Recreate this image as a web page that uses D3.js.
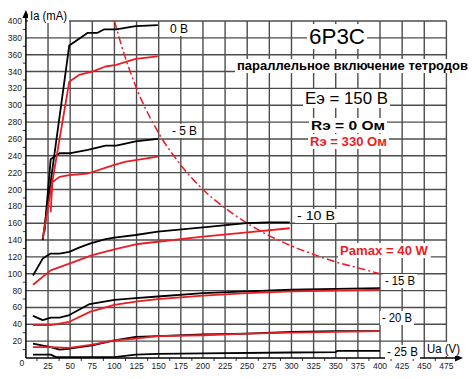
<!doctype html>
<html>

<head>
  <meta charset="utf-8">
  <title>6P3C</title>
  <script src="https://d3js.org/d3.v7.min.js"></script>
  <style>
    body { margin: 0; background: #fff; }
    text { font-family: "Liberation Sans", Arial, sans-serif; }
  </style>
</head>

<body>
  <div id="my_dataviz"></div>

  <script>

    // tick labels
    var xTicks = [25, 50, 75, 100, 125, 150, 175, 200, 225, 250, 275, 300, 325, 350, 375, 400, 425, 450, 475];
    var yTicks = [20, 40, 60, 80, 100, 120, 140, 160, 180, 200, 220, 240, 260, 280, 300, 320, 340, 360, 380, 400];

    // curves, [Ua (V), Ia (mA)], black: Rэ = 0, red: Rэ = 330
    var g0Black = [[19, 140], [49, 371], [70, 386], [81, 386], [88, 390], [102, 390], [124, 394], [149, 395]];
    var g0Red = [[19, 142], [49, 328], [60, 336], [75, 340], [90, 346], [102, 348], [124, 355], [149, 358]];
    var g5Black = [[21, 150], [28, 236], [38, 243], [49, 243], [70, 247], [90, 252], [102, 252], [124, 257], [149, 260]];
    var g5Red = [[28, 173], [30, 209], [38, 215], [49, 217], [70, 219], [99, 229], [113, 233], [149, 239]];
    var g10Black = [[8, 98], [19, 118], [28, 124], [38, 124], [49, 126], [60, 131], [73, 136], [90, 141], [100, 143], [124, 146], [149, 150], [200, 155], [249, 160], [274, 161], [298, 161]];
    var g10Red = [[8, 87], [28, 104], [49, 112], [75, 122], [100, 129], [124, 135], [149, 138], [200, 144], [250, 149], [298, 154]];
    var g15Black = [[8, 50], [19, 45], [28, 48], [38, 48], [49, 51], [72, 64], [100, 69], [124, 71], [149, 73], [200, 77], [250, 79], [300, 81], [350, 82], [400, 83]];
    var g15Red = [[8, 39], [28, 39], [49, 43], [73, 55], [100, 63], [124, 67], [149, 70], [200, 74], [250, 77], [300, 79], [350, 80], [400, 81]];
    var g20Black = [[8, 17], [28, 13], [38, 10], [49, 11], [75, 15], [100, 21], [124, 25], [149, 26], [200, 28], [250, 29], [300, 31], [350, 32], [400, 32]];
    var g20Red = [[8, 13], [28, 13], [49, 12], [75, 16], [100, 21], [124, 23], [149, 26], [200, 27], [250, 29], [300, 30], [350, 31], [400, 32]];
    var g25Black = [[8, 4], [28, 4], [34, 1], [100, 1], [124, 4], [149, 5], [200, 5.5], [300, 6.5], [350, 7], [352, 8.5], [400, 8.5]];

    // max anode dissipation 40 W
    var paMax = [[100, 400], [110, 364], [125, 320], [150, 267], [175, 229], [200, 200], [225, 178], [250, 160], [275, 145], [300, 133], [325, 123], [350, 114], [375, 107], [400, 100]];

    var black = "#000000", red = "#ec1c24";
    var curves = [
      { data: g25Black, color: black },
      { data: g20Black, color: black },
      { data: g20Red, color: red },
      { data: g15Black, color: black },
      { data: g15Red, color: red },
      { data: g10Black, color: black },
      { data: g10Red, color: red },
      { data: g5Black, color: black },
      { data: g5Red, color: red },
      { data: g0Black, color: black },
      { data: g0Red, color: red }
    ];

    var W = 474, H = 379;

    var svg = d3.select("#my_dataviz")
      .append("svg")
      .attr("width", W)
      .attr("height", H);

    var x = d3.scaleLinear().domain([0, 475]).range([25.9, 446.4]);
    var y = d3.scaleLinear().domain([0, 400]).range([358, 21]);

    // grid
    svg.append("g").selectAll("line")
      .data(xTicks).join("line")
      .attr("x1", d => x(d)).attr("x2", d => x(d))
      .attr("y1", y(0)).attr("y2", y(400))
      .attr("stroke", "#4d4d4d").attr("stroke-width", 1.4);
    svg.append("g").selectAll("line")
      .data(yTicks).join("line")
      .attr("x1", x(0)).attr("x2", x(475))
      .attr("y1", d => y(d)).attr("y2", d => y(d))
      .attr("stroke", "#4d4d4d").attr("stroke-width", 1.4);

    // minor ticks
    svg.append("g").selectAll("line")
      .data(yTicks).join("line")
      .attr("x1", x(0) - 3).attr("x2", x(0))
      .attr("y1", d => y(d - 10)).attr("y2", d => y(d - 10))
      .attr("stroke", "#333").attr("stroke-width", 1);
    svg.append("g").selectAll("line")
      .data(xTicks).join("line")
      .attr("x1", d => x(d - 12.5)).attr("x2", d => x(d - 12.5))
      .attr("y1", y(0)).attr("y2", y(0) + 3)
      .attr("stroke", "#333").attr("stroke-width", 1);

    // tick labels
    svg.append("g").selectAll("text")
      .data(yTicks).join("text")
      .attr("x", x(0) - 4)
      .attr("y", d => y(d) + 3)
      .attr("text-anchor", "end")
      .style("font-size", "8.5px")
      .attr("fill", "#222")
      .text(d => d);
    svg.append("g").selectAll("text")
      .data([0].concat(xTicks)).join("text")
      .attr("x", d => d === 0 ? x(0) - 4 : x(d))
      .attr("y", d => d === 0 ? y(0) + 8 : y(0) + 11)
      .attr("text-anchor", "middle")
      .style("font-size", "8.5px")
      .attr("fill", "#222")
      .text(d => d);

    // axes with arrows
    svg.append("line")
      .attr("x1", x(0)).attr("x2", x(0))
      .attr("y1", y(0)).attr("y2", 14)
      .attr("stroke", "#000").attr("stroke-width", 1.5);
    svg.append("line")
      .attr("x1", x(0)).attr("x2", 458)
      .attr("y1", y(0)).attr("y2", y(0))
      .attr("stroke", "#000").attr("stroke-width", 1.5);
    svg.append("path")
      .attr("d", "M" + x(0) + ",10 l-3.5,8 l7,0 z")
      .attr("fill", "#000");
    svg.append("path")
      .attr("d", "M463," + y(0) + " l-8,-3.5 l0,7 z")
      .attr("fill", "#000");

    var line = d3.line()
      .x(d => x(d[0]))
      .y(d => y(d[1]));

    // Pa max hyperbola
    svg.append("path")
      .datum(paMax)
      .attr("fill", "none")
      .attr("stroke", red)
      .attr("stroke-width", 1.5)
      .attr("stroke-dasharray", "8,3,2,3")
      .attr("d", d3.line().x(d => x(d[0])).y(d => y(d[1])).curve(d3.curveMonotoneX));

    // characteristic curves
    svg.append("g").selectAll("path")
      .data(curves).join("path")
      .attr("fill", "none")
      .attr("stroke", d => d.color)
      .attr("stroke-width", 1.8)
      .attr("stroke-linejoin", "round")
      .attr("d", d => line(d.data));

    // text with white background
    function label(tx, ty, str, size, weight, color, len) {
      var g = svg.append("g");
      var t = g.append("text")
        .attr("x", tx).attr("y", ty)
        .style("font-size", size + "px")
        .style("font-weight", weight)
        .attr("fill", color)
        .text(str);
      if (len) t.attr("textLength", len).attr("lengthAdjust", "spacingAndGlyphs");
      var b = t.node().getBBox();
      g.insert("rect", "text")
        .attr("x", b.x - 2).attr("y", b.y)
        .attr("width", b.width + 4).attr("height", b.height)
        .attr("fill", "#fff");
    }

    label(30, 20, "Ia (mA)", 12.5, "normal", "#000", 37);
    label(427, 353, "Ua (V)", 12, "normal", "#000", 33);

    label(170, 33, "0 В", 12, "normal", "#000", 18);
    label(172, 135, "- 5 В", 12, "normal", "#000", 25);
    label(297, 220, "- 10 В", 12, "normal", "#000", 38);
    label(385, 285, "- 15 В", 12, "normal", "#000", 30);
    label(382, 322, "- 20 В", 12, "normal", "#000", 30);
    label(387, 356, "- 25 В", 12, "normal", "#000", 31);

    label(309, 44, "6Р3С", 22, "normal", "#000", 56);
    label(237, 70, "параллельное включение тетродов", 12.5, "bold", "#000", 231);
    label(305, 104, "Eэ = 150 В", 17, "normal", "#000", 83);
    label(311, 130, "Rэ = 0 Ом", 13, "bold", "#000", 74);
    label(310, 146, "Rэ = 330 Ом", 13, "bold", red, 77);
    label(340, 255, "Pamax = 40 W", 13, "bold", red, 88);

  </script>
</body>

</html>
